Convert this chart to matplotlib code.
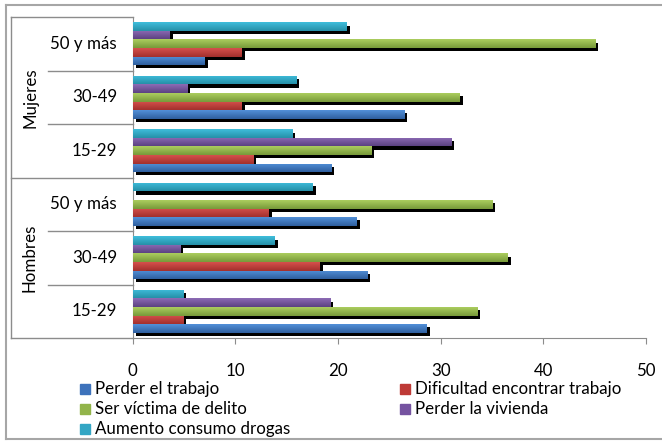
import matplotlib.pyplot as plt
import matplotlib.transforms as mtransforms
import numpy as np
from matplotlib.colors import LinearSegmentedColormap
from matplotlib.lines import Line2D

plt.rcParams['font.family'] = ['Lato', 'DejaVu Sans']

# groups, bottom to top
sexes = ['Hombres', 'Mujeres']
ages = ['15-29', '30-49', '50 y más', '15-29', '30-49', '50 y más']

series = ['Perder el trabajo', 'Dificultad encontrar trabajo', 'Ser víctima de delito',
          'Perder la vivienda', 'Aumento consumo drogas']
perder_trabajo = [28.6, 22.8, 21.8, 19.3, 26.4, 7.0]
dificultad_trabajo = [4.9, 18.2, 13.2, 11.7, 10.6, 10.6]
victima_delito = [33.5, 36.5, 35.0, 23.2, 31.8, 45.0]
perder_vivienda = [19.2, 4.6, 0.0, 31.0, 5.3, 3.6]
consumo_drogas = [4.9, 13.8, 17.5, 15.5, 15.9, 20.8]

values = [perder_trabajo, dificultad_trabajo, victima_delito, perder_vivienda, consumo_drogas]
# (top, bottom) shades for the gradient fill
shades = [('#5290d8', '#2f5f9f'),
          ('#d5504c', '#a3302d'),
          ('#abcd5e', '#789a3a'),
          ('#8d6bb5', '#5c4282'),
          ('#3fbddb', '#2690a8')]
legend_colors = ['#3d72bb', '#be3a36', '#92b44a', '#7553a0', '#33a6c4']

fs = 12.2

fig = plt.figure(figsize=(6.62, 4.41), dpi=100)
ax = fig.add_axes([132.5 / 662, 1 - 338 / 441, 513.5 / 662, 321 / 441])

n = len(series)
h = 0.8 / n
y = np.arange(len(ages))
shadow = ax.transData + mtransforms.ScaledTranslation(0.035, -0.033, fig.dpi_scale_trans)

bars = []
for i, vals in enumerate(values):
    pos = y - 0.4 + h * i + h / 2
    for p, v in zip(pos, vals):
        if v <= 0:
            continue
        ax.barh(p, v, height=h, color='black', transform=shadow, zorder=2)
        bars.append((p, v, i))

grad = np.linspace(0, 1, 32).reshape(-1, 1)
for p, v, i in bars:
    rect = ax.barh(p, v, height=h, color=shades[i][0], linewidth=0, zorder=3)[0]
    cmap = LinearSegmentedColormap.from_list('g%d' % i, [shades[i][1], shades[i][0]])
    im = ax.imshow(grad, cmap=cmap, aspect='auto', origin='lower',
                   extent=(0, v, p - h / 2, p + h / 2), zorder=4)
    im.set_clip_path(rect)

ax.set_xlim(0, 50)
ax.set_ylim(-0.5, len(ages) - 0.5)
ax.set_xticks(range(0, 51, 10))
ax.set_yticks([])
for s in ['top', 'right']:
    ax.spines[s].set_visible(False)
for s in ['left', 'bottom']:
    ax.spines[s].set_color('#8c8c8c')
ax.tick_params(axis='x', direction='out', length=4.5, color='#8c8c8c',
               labelsize=fs, pad=13.5)

# category table on the left
lc = '#8c8c8c'
x_out = (11 - 132.5) / 513.5
x_in = (48 - 132.5) / 513.5
def hline(yv, x0):
    ax.add_line(Line2D([x0, 0], [yv, yv], color=lc, lw=1,
                       transform=ax.get_yaxis_transform(), clip_on=False))

hline(5.5, x_out)
hline(-0.5, x_out)
hline(2.5, x_out)
for yv in [0.5, 1.5, 3.5, 4.5]:
    hline(yv, x_in)
ax.add_line(Line2D([x_out, x_out], [-0.5, 5.5], color=lc, lw=1,
                   transform=ax.get_yaxis_transform(), clip_on=False))

for yi, lab in zip(y, ages):
    ax.text((117 - 132.5) / 513.5, yi, lab, transform=ax.get_yaxis_transform(),
            ha='right', va='center', fontsize=fs)
for k, sx in enumerate(sexes):
    ax.text((30 - 132.5) / 513.5, 1 + 3 * k, sx, transform=ax.get_yaxis_transform(),
            ha='center', va='center', rotation=90, fontsize=fs)

# legend in two columns
legend_pos = [(80, 389), (400, 389), (80, 409), (400, 409), (80, 429)]
for (lx, ly), name, col in zip(legend_pos, series, legend_colors):
    fig.patches.append(plt.Rectangle((lx / 662, 1 - (ly + 5) / 441), 10 / 662, 10 / 441,
                                     transform=fig.transFigure, color=col))
    fig.text((lx + 15) / 662, 1 - ly / 441, name, ha='left', va='center', fontsize=fs)

# outer frame
bc = '#a6a6a6'
fig.add_artist(Line2D([6 / 662, 1], [1 - 4.5 / 441] * 2, color=bc, lw=1.5))
fig.add_artist(Line2D([6 / 662, 1], [1 - 439 / 441] * 2, color=bc, lw=1.5))
fig.add_artist(Line2D([6 / 662] * 2, [1 - 4.5 / 441, 1 - 439 / 441], color=bc, lw=1.5))

fig.savefig('out.png', dpi=100)
